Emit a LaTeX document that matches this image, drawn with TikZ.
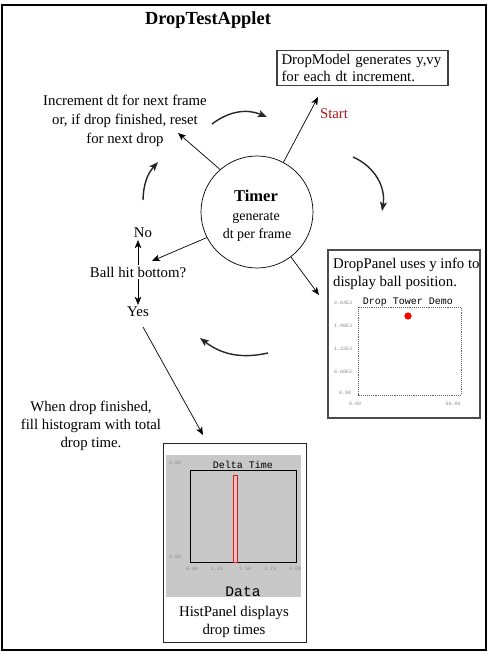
\documentclass[tikz,border=0pt]{standalone}
\usepackage{fontspec}
\setmainfont{Liberation Serif}
\setmonofont{Liberation Mono}
\usetikzlibrary{arrows.meta}
\definecolor{startred}{RGB}{175,25,25}
\definecolor{panelgray}{RGB}{200,200,200}
\definecolor{barpink}{RGB}{255,190,190}
\definecolor{barred}{RGB}{210,30,30}
\begin{document}
\begin{tikzpicture}[x=1pt,y=1pt,
  txt/.style={font=\fontsize{14.8}{18.5}\selectfont, inner sep=2pt},
  conn/.style={draw=black, line width=0.7pt, -{Stealth[length=8pt,width=6.5pt,inset=2pt]}},
  cyc/.style={draw=black!85, line width=1.4pt, -{Stealth[length=9pt,width=7pt,inset=2pt]}},
  tick/.style={font=\ttfamily\fontsize{5}{6}\selectfont, text=black!45, inner sep=0pt},
  mono/.style={font=\ttfamily\fontsize{10}{12}\selectfont, inner sep=0pt},
]
\useasboundingbox (0,0) rectangle (492,-658);
\draw[line width=1.3pt] (2,-5) rectangle (486,-650);

\node[font=\bfseries\fontsize{18.4}{22}\selectfont, inner sep=0] (title) at (208,-20) {DropTestApplet};

% DropModel box
\node[txt, font=\fontsize{14.8}{16.5}\selectfont, draw=black!75, line width=1.2pt, align=left,
      text width=162pt, inner xsep=4.5pt, inner ysep=3pt, minimum height=35pt] (model) at (362.5,-68)
      {DropModel generates y,vy\\for each dt increment.};
\node[txt, text=startred] (start) at (334,-114) {Start};

% Timer
\node[circle, draw, line width=0.7pt, minimum size=112pt, inner sep=0] (timer) at (257,-212) {};
\node[font=\bfseries\fontsize{16.5}{18}\selectfont, inner sep=0] (timerT) at (256,-196) {Timer};
\node[font=\fontsize{14}{16}\selectfont, inner sep=0] (timerG) at (256,-218) {generate};
\node[font=\fontsize{14}{16}\selectfont, inner sep=0] (timerD) at (257,-235) {dt per frame};

% Left texts
\node[txt, font=\fontsize{14.8}{18.7}\selectfont, align=center] (incr) at (125,-121)
  {Increment dt for next frame\\or, if drop finished, reset\\for next drop};
\node[txt] (no) at (143,-233) {No};
\node[txt] (ball) at (138,-272) {Ball hit bottom?};
\node[txt] (yes) at (138,-312) {Yes};
\node[txt, font=\fontsize{14.8}{18}\selectfont, align=center] (when) at (91,-426)
  {When drop finished,\\fill histogram with total\\drop time.};

% DropPanel
\node[draw=black!70, line width=1.6pt, minimum width=152pt, minimum height=168pt, inner sep=0] (panel) at (404,-334) {};
\node[txt, font=\fontsize{14.8}{18.5}\selectfont, align=left, anchor=north west] (paneltxt) at (331,-255.5)
  {DropPanel uses y info to\\display ball position.};
\draw[draw=black!60, densely dotted, line width=0.9pt, fill=white] (358,-307) rectangle (461,-395);
\node[mono] (dtitle) at (408,-302) {Drop Tower Demo};
\fill[red] (408,-316) circle (3.6);
\node[tick] (y1) at (343,-303) {2.64E3};
\node[tick] (y2) at (343,-326) {1.98E3};
\node[tick] (y3) at (343,-349) {1.32E3};
\node[tick] (y4) at (343,-372) {6.60E2};
\node[tick] (y5) at (345,-393) {0.00};
\node[tick] (x1) at (355,-404) {0.00};
\node[tick] (x2) at (453,-404) {50.00};

% HistPanel
\node[draw=black!85, line width=0.9pt, minimum width=143pt, minimum height=199pt, inner sep=0] (hist) at (234.5,-542.5) {};
\fill[panelgray] (166,-455) rectangle (301,-597);
\draw[black, line width=0.8pt] (190,-470) rectangle (296,-562);
\draw[barred, fill=barpink, line width=0.6pt] (233,-475) rectangle (237,-562);
\node[mono] (htitle) at (243,-465) {Delta Time};
\node[tick] (hy1) at (175,-463) {5.00};
\node[tick] (hy2) at (175,-557) {0.00};
\node[tick] (hx1) at (192,-569) {0.00};
\node[tick] (hx2) at (217,-569) {1.25};
\node[tick] (hx3) at (245,-569) {2.50};
\node[tick] (hx4) at (270,-569) {3.75};
\node[tick] (hx5) at (295,-569) {5.00};
\node[font=\ttfamily\fontsize{14.6}{16}\selectfont, inner sep=0] (data) at (243,-592) {Data};
\node[txt, font=\fontsize{14.8}{18}\selectfont, align=center] (histtxt) at (234,-622) {HistPanel displays\\drop times};

% connectors
\coordinate (mtip) at (318,-97);
\coordinate (itip) at (178,-133);
\coordinate (btip) at (152,-261);
\coordinate (ptip) at (319,-295);
\coordinate (ystart) at (143,-327);
\coordinate (htip) at (203,-435);
\draw[conn] (timer.62) -- (mtip);
\draw[conn] (timer.131) -- (itip);
\draw[conn] (timer.207) -- (btip);
\draw[conn] (timer.307) -- (ptip);
\draw[conn] (ball.north) -- (ball.north |- no.south);
\draw[conn] (ball.south) -- (ball.south |- yes.north);
\draw[conn] (ystart) -- (htip);

% cycle arrows
\coordinate (c1a) at (212,-124); \coordinate (c1b) at (267,-117);
\coordinate (c2a) at (353,-157); \coordinate (c2b) at (382,-211);
\coordinate (c3a) at (268,-353); \coordinate (c3b) at (200,-338);
\coordinate (c4a) at (143,-200); \coordinate (c4b) at (158,-162);
\draw[cyc] (c1a) to[bend left=30] (c1b);
\draw[cyc] (c2a) to[bend left=38] (c2b);
\draw[cyc] (c3a) to[bend left=25] (c3b);
\draw[cyc] (c4a) to[bend left=20] (c4b);
\end{tikzpicture}
\end{document}
